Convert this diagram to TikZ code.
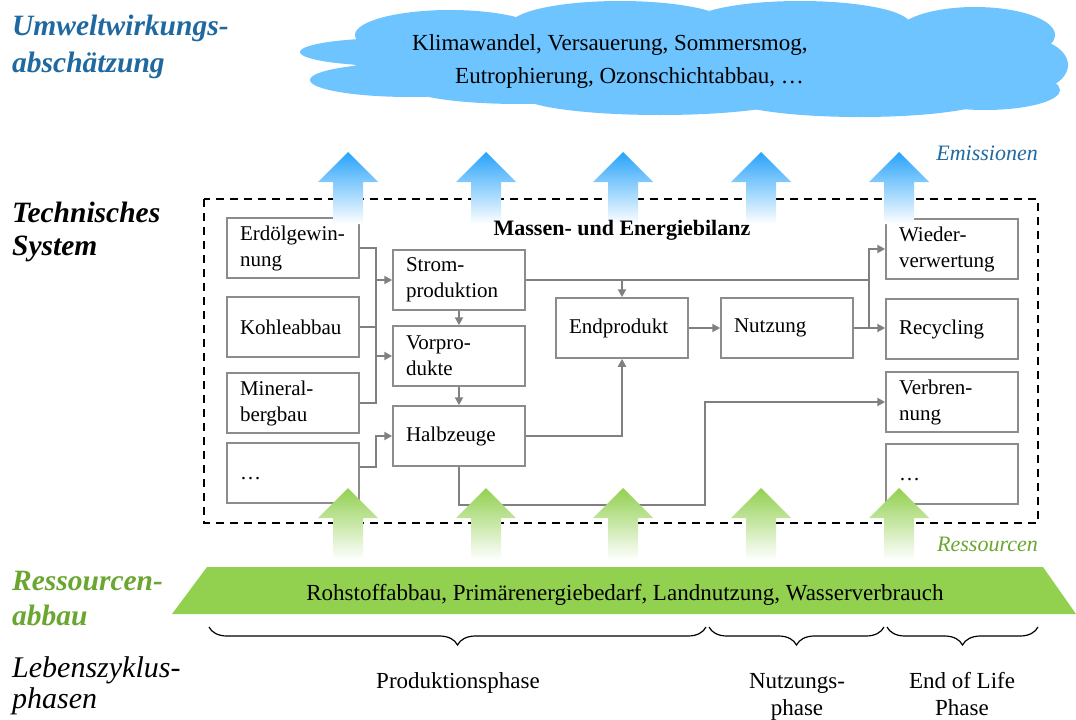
\documentclass[tikz,border=0pt]{standalone}
\usepackage{fontspec}
\setmainfont{Liberation Serif}
\usetikzlibrary{arrows.meta,decorations.pathreplacing}
\definecolor{hblue}{RGB}{31,105,160}
\definecolor{hgreen}{RGB}{106,166,48}
\definecolor{cloudblue}{RGB}{110,196,255}
\definecolor{arrblue}{RGB}{40,163,250}
\definecolor{resgreen}{RGB}{146,208,80}
\definecolor{boxgray}{RGB}{140,140,140}
\definecolor{conngray}{RGB}{128,128,128}
\begin{document}
\begin{tikzpicture}[x=1pt,y=-1pt,
  stepbox/.style={draw=boxgray, line width=1.5pt, minimum width=132pt, minimum height=60pt,
    text width=106pt, inner xsep=13pt, inner ysep=0pt, align=left,
    font=\fontsize{21}{26}\selectfont},
  conn/.style={draw=conngray, line width=2pt},
  arr/.style={conn, -{Triangle[length=8pt,width=8pt]}},
  heading/.style={anchor=base west, inner sep=0pt, align=left},
  phasebrace/.style={decorate, decoration={brace, mirror, amplitude=18pt}, line width=1.2pt},
  phaselabel/.style={anchor=base, inner sep=0pt, align=center, font=\fontsize{23}{27}\selectfont},
  upblue/.style={top color=arrblue, bottom color=white},
  upgreen/.style={top color=resgreen, bottom color=white}
]
\useasboundingbox (0,0) rectangle (1076,720);

% cloud
\begin{scope}[fill=cloudblue]
\fill (680,58) ellipse [x radius=330, y radius=42];
\fill (395,52) ellipse [x radius=95, y radius=14];
\fill (410,80) ellipse [x radius=100, y radius=17];
\fill (450,35) ellipse [x radius=95, y radius=25];
\fill (620,25) ellipse [x radius=110, y radius=24];
\fill (800,24) ellipse [x radius=110, y radius=23];
\fill (975,35) ellipse [x radius=80, y radius=28];
\fill (1020,65) ellipse [x radius=48, y radius=28];
\fill (985,90) ellipse [x radius=75, y radius=20];
\fill (860,98) ellipse [x radius=130, y radius=19];
\fill (660,95) ellipse [x radius=140, y radius=20];
\fill (520,88) ellipse [x radius=110, y radius=16];
\end{scope}
\node[anchor=base west, inner sep=0pt, align=left, font=\fontsize{23}{33}\selectfont] (cloudtext) at (412,83)
  {Klimawandel, Versauerung, Sommersmog,\\\hspace*{43pt}Eutrophierung, Ozonschichtabbau, …};

% headings
\node[heading, text=hblue, font=\fontsize{29.5}{37}\selectfont\bfseries\itshape] (h1) at (12,72) {Umweltwirkungs-\\abschätzung};
\node[heading, font=\fontsize{29.5}{33}\selectfont\bfseries\itshape] (h2) at (12,255) {Technisches\\System};
\node[heading, text=hgreen, font=\fontsize{29.5}{35}\selectfont\bfseries\itshape] (h3) at (12,625) {Ressourcen-\\abbau};
\node[heading, font=\fontsize{30}{31}\selectfont\itshape] (h4) at (12,708) {Lebenszyklus-\\phasen};

% system frame
\draw[line width=2pt, dash pattern=on 8pt off 6pt] (204,199) rectangle (1038,523);
\node[anchor=base east, inner sep=0pt, text=hblue, font=\fontsize{22}{26}\selectfont\itshape] (emis) at (1038,160) {Emissionen};
\node[anchor=base east, inner sep=0pt, text=hgreen, font=\fontsize{22}{26}\selectfont\itshape] (ress) at (1038,551) {Ressourcen};

% boxes
\node[stepbox] (erdol) at (293,248) {Erdölgewin-\\nung};
\node[stepbox] (kohle) at (293,327) {Kohleabbau};
\node[stepbox] (mineral) at (293,403) {Mineral-\\bergbau};
\node[stepbox, text height=16pt, text depth=4pt] (dotsL) at (293,473) {…};
\node[stepbox] (strom) at (459,280) {Strom-\\produktion};
\node[stepbox] (vorpro) at (459,356) {Vorpro-\\dukte};
\node[stepbox] (halb) at (459,436) {Halbzeuge};
\node[stepbox] (endp) at (622,328) {Endprodukt};
\node[stepbox] (nutz) at (787,328) {Nutzung};
\node[stepbox] (wieder) at (952,249) {Wieder-\\verwertung};
\node[stepbox] (recyc) at (952,329) {Recycling};
\node[stepbox] (verbr) at (952,402) {Verbren-\\nung};
\node[stepbox, text height=16pt, text depth=4pt] (dotsR) at (952,474) {…};

% connectors
\coordinate (busTop) at (376,248);
\coordinate (busBot) at (376,403);
\draw[conn] (erdol.east) -- (busTop) -- (busBot) -- (mineral.east);
\draw[conn] (kohle.east) -- (kohle.east -| busTop);
\draw[arr] (busTop |- strom.west) -- (strom.west);
\draw[arr] (busTop |- vorpro.west) -- (vorpro.west);
\draw[arr] ([yshift=6pt]dotsL.east) -- ++(16,0) |- (halb.west);
\draw[arr] (strom.south) -- (vorpro.north);
\draw[arr] (vorpro.south) -- (halb.north);
\coordinate (J1) at (869,280);
\coordinate (J2) at (869,328);
\draw[conn] (strom.east) -- (J1);
\draw[arr] (endp.north |- J1) -- (endp.north);
\draw[arr] (endp.east) -- (nutz.west);
\draw[arr] (nutz.east) -- (recyc.west |- nutz.east);
\draw[arr] (J2) |- (wieder.west);
\draw[arr] (halb.east) -| (endp.south);
\coordinate (hb) at (459,505);
\coordinate (vb) at (705,505);
\draw[arr] (halb.south) -- (hb) -- (vb) |- (verbr.west);

% emission and resource arrows
\foreach \cx in {348,486,623,761,899}{
  \shade[upblue] (\cx,152) -- (\cx+30,182) -- (\cx+15,182) -- (\cx+15,224) -- (\cx-15,224) -- (\cx-15,182) -- (\cx-30,182) -- cycle;
  \shade[upgreen] (\cx,488) -- (\cx+30,518) -- (\cx+15,518) -- (\cx+15,560) -- (\cx-15,560) -- (\cx-15,518) -- (\cx-30,518) -- cycle;
}
\node[anchor=base, inner sep=0pt, font=\fontsize{22}{26}\selectfont\bfseries] (bilanz) at (622,235) {Massen- und Energiebilanz};

% resource band
\fill[resgreen] (207,567) -- (1043,567) -- (1076,614) -- (172,614) -- cycle;
\node[anchor=base, inner sep=0pt, font=\fontsize{23}{27}\selectfont] (band) at (625,600)
  {Rohstoffabbau, Primärenergiebedarf, Landnutzung, Wasserverbrauch};

% life cycle phases
\draw[phasebrace] (209,627) -- (706,627);
\draw[phasebrace] (709,627) -- (884,627);
\draw[phasebrace] (887,627) -- (1038,627);
\node[phaselabel] (p1) at (458,688) {Produktionsphase};
\node[phaselabel] (p2) at (797,715) {Nutzungs-\\phase};
\node[phaselabel] (p3) at (962,715) {End of Life\\Phase};
\end{tikzpicture}
\end{document}
